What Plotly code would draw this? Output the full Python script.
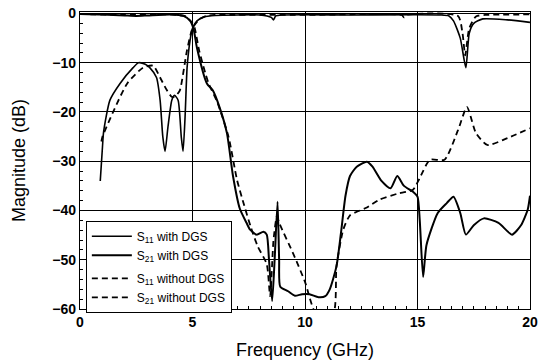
import plotly.graph_objects as go

# S11 with DGS (solid)
f_s11_dgs = [0.9, 1.0, 1.05, 1.33, 1.78, 2.36, 2.6, 2.9, 3.1, 3.4, 3.56, 3.68, 3.78, 3.91, 4.08, 4.2, 4.36, 4.5, 4.58,
             4.67, 4.76, 4.89, 5.0, 5.2, 5.5, 6.0, 7.0, 8.0, 8.5, 8.6, 8.7, 9.0, 12.0, 16.0, 16.4, 16.6, 16.9, 17.15,
             17.3, 17.5, 17.9, 19.0, 20.0]
v_s11_dgs = [-34, -27, -24, -17.6, -14.2, -11, -10, -10.3, -11, -13, -17.6, -25, -28, -23, -17.6, -16.6, -17.6, -25, -28,
             -21, -11, -5.5, -3, -1.5, -0.7, -0.4, -0.3, -0.3, -0.8, -1.3, -0.5, -0.3, -0.3, -0.3, -0.5, -1.5, -5, -11,
             -4, -2, -1.1, -1.3, -1.8]

# S21 with DGS (solid)
f_s21_dgs = [0, 1, 2, 2.5, 3, 4, 4.6, 4.9, 5.05, 5.2, 5.64, 5.9, 6.2, 6.53, 6.8, 7.1, 7.4, 7.56, 7.85, 8.15, 8.3, 8.4,
             8.54, 8.65, 8.78, 8.85, 8.9, 9.25, 9.55, 9.87, 10.2, 10.6, 10.9, 11.1, 11.4, 11.6, 11.8, 12.0, 12.3, 12.75,
             13.0, 13.4, 13.8, 14.1, 14.4, 14.8, 15.0, 15.1, 15.25, 15.4, 15.9, 16.3, 16.6, 16.9, 17.15, 17.5, 17.95,
             18.6, 19.2, 19.6, 19.9, 20.0]
v_s21_dgs = [-0.1, -0.2, -0.4, -0.5, -0.4, -0.2, -0.5, -1.5, -3.2, -7, -14.2, -15.6, -19, -24.3, -33, -39.6, -42.5,
             -43.9, -44.9, -44.3, -44.9, -50, -58.4, -50, -38.2, -50, -55.5, -56.4, -57.3, -57, -57, -57.6, -57.4, -56,
             -51.3, -44.5, -37, -33, -31.1, -30.1, -31.1, -34, -35.5, -33, -35, -36.2, -37.2, -42, -53.5, -47, -40.5,
             -38.5, -37.2, -40.5, -44.9, -43, -41.6, -42.5, -44.9, -43, -39.8, -37]

# S11 without DGS (dashed)
f_s11_nodgs = [0.95, 1.0, 1.5, 2.1, 2.8, 3.25, 3.56, 3.85, 4.1, 4.3, 4.44, 4.75, 5.0, 5.3, 5.6, 6.0, 10.0, 14.3, 14.4,
               14.5, 16.8, 17.0, 17.12, 17.3, 17.6, 18.0, 20.0]
v_s11_nodgs = [-26, -25, -19.7, -14.2, -11, -10.6, -13, -15.5, -17, -16.5, -15.6, -7.6, -3, -1.2, -0.5, -0.3, -0.3,
               -0.3, -0.8, -0.3, -0.5, -4, -8.5, -3, -0.6, -0.3, -0.2]

# S21 without DGS (dashed)
f_s21_nodgs = [0, 2, 4, 4.7, 5.0, 5.1, 5.3, 5.7, 6.1, 6.6, 6.98, 7.3, 7.6, 7.9, 8.3, 8.45, 8.6, 8.75, 8.85, 9.5, 10.0,
               10.5, 11.25, 11.4, 11.7, 12.0, 12.75, 13.3, 14.1, 14.8, 15.1, 15.55, 16.2, 16.8, 17.2, 17.6, 18.1, 19.0,
               20.0]
v_s21_nodgs = [-0.1, -0.3, -0.2, -0.6, -2, -3, -7.6, -14, -18, -25, -33.8, -39, -43.5, -47.3, -50.9, -57.4, -46, -41.2,
               -42.5, -49, -54.5, -61, -61, -51.3, -43.9, -41, -39.4, -37.8, -36.6, -35.8, -33.4, -29.7, -29.7, -23.7,
               -19, -24.3, -26.7, -25.3, -23.3]

x_ticks = [0, 5, 10, 15, 20]
y_ticks = [0, -10, -20, -30, -40, -50, -60]

FONT = "Liberation Sans, Arial, sans-serif"

fig = go.Figure()
series = [
    (f_s11_dgs, v_s11_dgs, "S<sub>11</sub> with DGS", "solid", 1.6, "g1"),
    (f_s21_dgs, v_s21_dgs, "S<sub>21</sub> with DGS", "solid", 2.0, "g1"),
    (f_s11_nodgs, v_s11_nodgs, "S<sub>11</sub> without DGS", "6px,4px", 1.8, "g2"),
    (f_s21_nodgs, v_s21_nodgs, "S<sub>21</sub> without DGS", "6px,4px", 1.8, "g2"),
]
for fx, vy, name, dash, w, grp in series:
    fig.add_trace(go.Scatter(
        x=fx, y=vy, name=name, mode="lines", legendgroup=grp,
        line=dict(color="black", width=w, dash=dash, shape="spline", smoothing=0.6),
    ))

axis_common = dict(
    showline=True, linecolor="black", linewidth=1.2, mirror=True,
    showgrid=True, gridcolor="black", gridwidth=1.2,
    ticks="inside", ticklen=5, tickcolor="black",
    zeroline=False, ticklabeloverflow="allow",
    tickfont=dict(family=FONT, size=14, color="black", weight="bold"),
)

fig.update_xaxes(
    range=[0, 20], tickvals=x_ticks,
    title=dict(text="Frequency (GHz)", font=dict(family=FONT, size=18, color="black"), standoff=14),
    minor=dict(ticks="inside", dtick=0.5, ticklen=3, tickcolor="black", showgrid=False),
    **axis_common,
)
fig.update_yaxes(
    range=[-60, 0.3], tickvals=y_ticks,
    title=dict(text="Magnitude (dB)", font=dict(family=FONT, size=18, color="black"), standoff=22),
    minor=dict(ticks="inside", dtick=2, ticklen=3, tickcolor="black", showgrid=False),
    **axis_common,
)

fig.update_layout(
    width=542, height=363,
    margin=dict(l=80, r=12, t=12, b=54, autoexpand=False),
    paper_bgcolor="white", plot_bgcolor="white",
    showlegend=True,
    legend=dict(
        x=0.013, y=0.297, xanchor="left", yanchor="top",
        bgcolor="white", bordercolor="black", borderwidth=1,
        font=dict(family=FONT, size=12, color="black"),
        traceorder="grouped", tracegroupgap=4,
        itemwidth=40,
    ),
)

fig.write_html("out.html", config={"displayModeBar": False},
               post_script="document.body.style.margin='0';")
